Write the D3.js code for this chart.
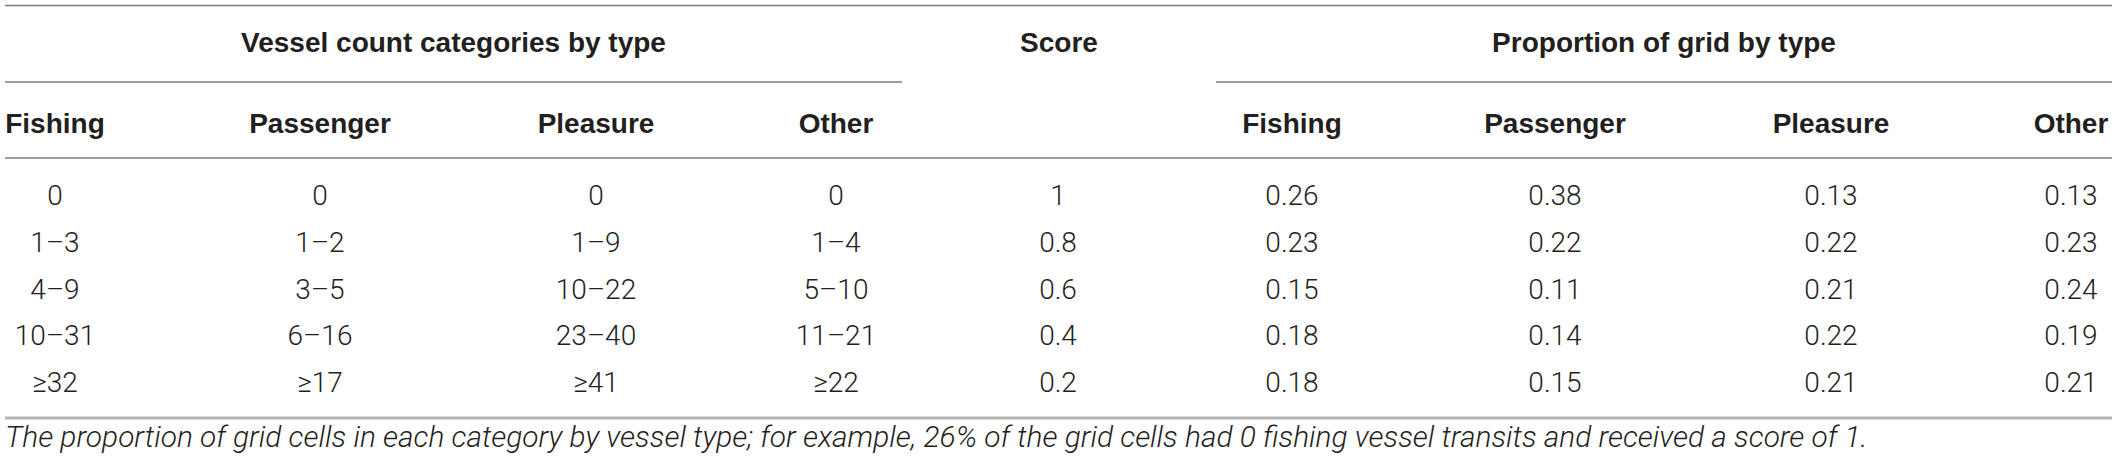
<!DOCTYPE html>
<html>
<head>
<meta charset="utf-8">
<script src="https://cdn.jsdelivr.net/npm/d3@7"></script>
<style>
    html, body { margin: 0; padding: 0; background: #fff; }
    svg { display: block; }
</style>
</head>
<body>
<svg id="table"></svg>
<script>
// table content
const groupHeaders = ["Vessel count categories by type", "Score", "Proportion of grid by type"];
const vesselTypes = ["Fishing", "Passenger", "Pleasure", "Other"];

const fishingCounts = ["0", "1–3", "4–9", "10–31", "≥32"];
const passengerCounts = ["0", "1–2", "3–5", "6–16", "≥17"];
const pleasureCounts = ["0", "1–9", "10–22", "23–40", "≥41"];
const otherCounts = ["0", "1–4", "5–10", "11–21", "≥22"];

const scores = [1, 0.8, 0.6, 0.4, 0.2];

const propFishing = [0.26, 0.23, 0.15, 0.18, 0.18];
const propPassenger = [0.38, 0.22, 0.11, 0.14, 0.15];
const propPleasure = [0.13, 0.22, 0.21, 0.22, 0.21];
const propOther = [0.13, 0.23, 0.24, 0.19, 0.21];

const caption = "The proportion of grid cells in each category by vessel type; for example, 26% of the grid cells had 0 fishing vessel transits and received a score of 1.";

const width = 2117, height = 467;
const left = 5, right = 2112;

// column centres, as the source table lays them out
const colCenters = [55, 320, 596, 836, 1058, 1292, 1555, 1831, 2071];
const groupSpans = [[left, 902], [902, 1216], [1216, right]];

const svg = d3.select("#table")
    .attr("width", width)
    .attr("height", height);

svg.append("rect").attr("width", width).attr("height", height).attr("fill", "#fff");

const rowIds = d3.range(fishingCounts.length);
const y = d3.scalePoint().domain(rowIds).range([205, 392]);

const fmtScore = d3.format("");
const fmtProp = d3.format(".2f");

const columns = [
    fishingCounts, passengerCounts, pleasureCounts, otherCounts,
    scores.map(fmtScore),
    propFishing.map(fmtProp), propPassenger.map(fmtProp), propPleasure.map(fmtProp), propOther.map(fmtProp)
];

const headFont = "'Liberation Sans', Arial, Helvetica, sans-serif";
const bodyFont = "Roboto, 'Liberation Sans', sans-serif";

// rules
const rule = (x1, x2, yy, w, c) => svg.append("line")
    .attr("x1", x1).attr("x2", x2).attr("y1", yy).attr("y2", yy)
    .attr("stroke", c).attr("stroke-width", w);

rule(left, right, 5.5, 1.6, "#7d7d7d");
rule(groupSpans[0][0], groupSpans[0][1], 82, 1.6, "#7d7d7d");
rule(groupSpans[2][0], groupSpans[2][1], 82, 1.6, "#7d7d7d");
rule(left, right, 158, 1.6, "#7d7d7d");
rule(left, right, 418, 3, "#b5b5b5");

// group headers
svg.append("g").selectAll("text")
    .data(groupHeaders)
    .join("text")
    .attr("x", (d, i) => (groupSpans[i][0] + groupSpans[i][1]) / 2)
    .attr("y", 52)
    .attr("text-anchor", "middle")
    .style("font-family", headFont)
    .style("font-weight", "bold")
    .style("font-size", "28px")
    .style("fill", "#231f20")
    .text(d => d);

// column headers (score has none on this row)
const colHeaders = vesselTypes.concat([""], vesselTypes);
svg.append("g").selectAll("text")
    .data(colHeaders)
    .join("text")
    .attr("x", (d, i) => colCenters[i])
    .attr("y", 133)
    .attr("text-anchor", "middle")
    .style("font-family", headFont)
    .style("font-weight", "bold")
    .style("font-size", "28px")
    .style("fill", "#231f20")
    .text(d => d);

// body cells
const cells = svg.append("g").selectAll("g")
    .data(columns)
    .join("g")
    .attr("transform", (d, i) => `translate(${colCenters[i]},0)`);

cells.selectAll("text")
    .data(d => d)
    .join("text")
    .attr("x", 0)
    .attr("y", (d, i) => y(i))
    .attr("text-anchor", "middle")
    .style("font-family", bodyFont)
    .style("font-weight", 300)
    .style("font-size", "28px")
    .style("fill", "#231f20")
    .text(d => d);

// caption, sized to the source width
const cap = svg.append("text")
    .attr("x", left)
    .attr("y", 447)
    .style("font-family", bodyFont)
    .style("font-weight", 300)
    .style("font-style", "italic")
    .style("font-size", "26px")
    .style("fill", "#231f20")
    .text(caption);

const capLen = cap.node().getComputedTextLength();
cap.style("font-size", (26 * (1868 - left) / capLen).toFixed(2) + "px");
</script>
</body>
</html>
